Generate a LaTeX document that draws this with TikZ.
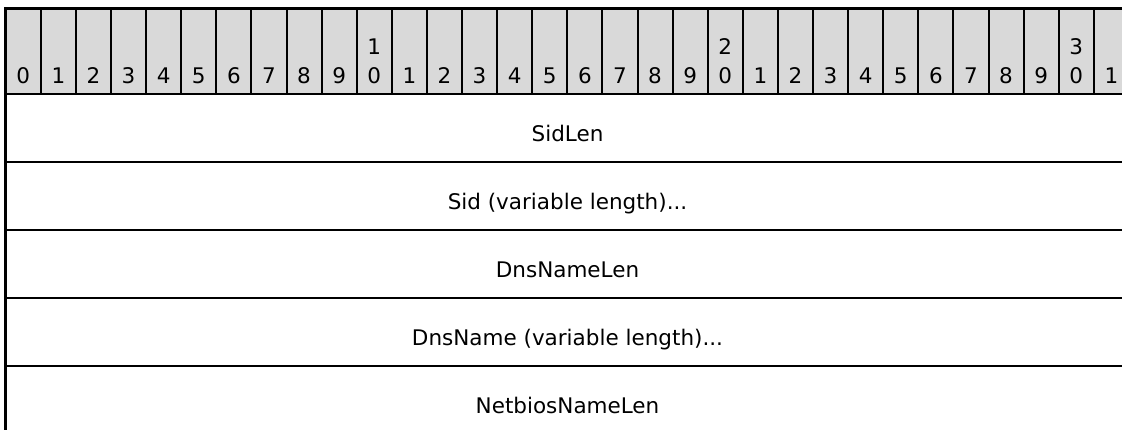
\documentclass[tikz,border=0pt]{standalone}
\usepackage{fontspec}
\setmainfont{DejaVu Sans}
\definecolor{hdrgrey}{RGB}{217,217,217}
\tikzset{
  bitnum/.style={font=\fontsize{21.5}{26}\selectfont, anchor=base, inner sep=0pt},
  fieldtext/.style={font=\fontsize{21.5}{26}\selectfont, anchor=base, inner sep=0pt},
  frameline/.style={line width=2.7pt, black},
  cellsep/.style={line width=2pt, black},
}
\begin{document}
\begin{tikzpicture}[x=1pt,y=-1pt]
\useasboundingbox (0,0) rectangle (1122,429);
\clip (0,0) rectangle (1122,429);
% header background
\fill[hdrgrey] (5.7,8.7) rectangle (1130,94);
% header cell separators
\foreach \i in {1,...,31} {
  \draw[cellsep] ({5.7+\i*35.1},8.7) -- ({5.7+\i*35.1},94);
}
% bit numbers
\foreach \i in {0,...,31} {
  \pgfmathtruncatemacro{\d}{mod(\i,10)}
  \pgfmathtruncatemacro{\t}{\i/10}
  \node[bitnum] (b\i) at ({5.7+(\i+0.5)*35.1},83) {\d};
  \ifnum\d=0 \ifnum\t>0
    \node[bitnum] (t\i) at ({5.7+(\i+0.5)*35.1},54.5) {\t};
  \fi\fi
}
% frame and row lines
\draw[frameline] (1130,8.7) -- (5.7,8.7) -- (5.7,440);
\foreach \y in {94,162,230,298,366} {
  \draw[frameline] (5.7,\y) -- (1130,\y);
}
% field labels
\node[fieldtext] (f1) at (567.5,141.7) {SidLen};
\node[fieldtext] (f2) at (567.5,209.7) {Sid (variable length)...};
\node[fieldtext] (f3) at (567.5,277.7) {DnsNameLen};
\node[fieldtext] (f4) at (567.5,345.7) {DnsName (variable length)...};
\node[fieldtext] (f5) at (567.5,413.7) {NetbiosNameLen};
\end{tikzpicture}
\end{document}
